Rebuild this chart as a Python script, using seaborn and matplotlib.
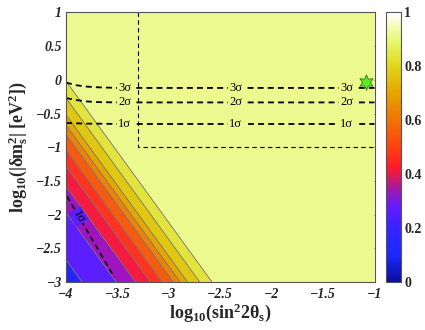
import numpy as np
import pandas as pd
import matplotlib
matplotlib.use("Agg")
import matplotlib.pyplot as plt
import seaborn as sns
from matplotlib.colors import LinearSegmentedColormap, Normalize
from matplotlib.cm import ScalarMappable

# ---------------- data ----------------
# band structure: z depends on s = slope*log10(sin^2 2theta) + log10(dm^2)
band_slope = 2.1
s_nodes = [-13.0, -11.07, -10.37, -9.98, -9.68, -9.44, -9.21, -9.07, -8.92, -8.67, -8.42, -8.0]
z_nodes = [0.02, 0.08, 0.20, 0.30, 0.40, 0.48, 0.55, 0.62, 0.70, 0.78, 0.86, 0.93]
band_levels = [0.0, 0.08, 0.20, 0.30, 0.40, 0.48, 0.55, 0.62, 0.70, 0.78, 0.86, 1.0]
band_colors = ["#2424FC", "#5A1EFF", "#A014C0", "#F51A40", "#FF3420",
               "#F65C10", "#EE8208", "#E6A600", "#E0C812", "#E3E33E", "#EBF98F"]

# confidence contours (upper right), x grid and y values
sig_x = [-4.0, -3.9, -3.8, -3.7, -3.5, -1.0]
sig3_y = [-0.04, -0.08, -0.10, -0.11, -0.12, -0.12]
sig2_y = [-0.27, -0.30, -0.32, -0.33, -0.335, -0.335]
sig1_y = [-0.64, -0.645, -0.65, -0.65, -0.655, -0.655]
sig_label_x = [-3.43, -2.35, -1.27]

# lower-left 1 sigma contour
low1_x = [-3.99, -3.53]
low1_y = [-1.73, -2.93]

# dashed box
box_x = [-3.3, -3.3, -1.0]
box_y = [1.0, -1.0, -1.0]

# best-fit point
star_x = [-1.08]
star_y = [-0.03]

xticks = [-4, -3.5, -3, -2.5, -2, -1.5, -1]
xticklabels = ["\u22124", "\u22123.5", "\u22123", "\u22122.5", "\u22122", "\u22121.5", "\u22121"]
yticks = [1, 0.5, 0, -0.5, -1, -1.5, -2, -2.5, -3]
yticklabels = ["1", "0.5", "0", "\u22120.5", "\u22121", "\u22121.5", "\u22122", "\u22122.5", "\u22123"]
cticks = [0, 0.2, 0.4, 0.6, 0.8, 1]
cticklabels = ["0", "0.2", "0.4", "0.6", "0.8", "1"]

# ---------------- style ----------------
sns.set_theme(style="white")
plt.rcParams["font.family"] = ["Liberation Serif", "DejaVu Serif"]
plt.rcParams["mathtext.fontset"] = "custom"
plt.rcParams["mathtext.rm"] = "Liberation Serif"
plt.rcParams["mathtext.bf"] = "Liberation Serif:bold"
plt.rcParams["mathtext.it"] = "Liberation Serif:italic"

fig = plt.figure(figsize=(4.25, 3.3), dpi=100)
ax = fig.add_axes([0.1553, 0.1455, 0.7259, 0.8167])
cax = fig.add_axes([0.9094, 0.1455, 0.0353, 0.8167])

gx = np.linspace(-4, -1, 500)
gy = np.linspace(-3, 1, 500)
X, Y = np.meshgrid(gx, gy)
Z = np.interp(band_slope * X + Y, s_nodes, z_nodes)

ax.contourf(X, Y, Z, levels=band_levels, colors=band_colors, antialiased=True)
ax.contour(X, Y, Z, levels=band_levels[1:-1], colors="#707070", linewidths=0.6)

# dashed box
ax.plot(box_x, box_y, color="black", lw=0.8, dashes=(4, 3))

# sigma lines
plateau = band_colors[-1]
for ys, lab in [(sig3_y, "3\u03c3"), (sig2_y, "2\u03c3"), (sig1_y, "1\u03c3")]:
    df = pd.DataFrame({"x": sig_x, "y": ys})
    sns.lineplot(data=df, x="x", y="y", ax=ax, color="black", lw=1.3,
                 sort=False, estimator=None).lines[-1].set_dashes((3.3, 2.3))
    for lx in sig_label_x:
        ly = np.interp(lx, sig_x, ys)
        ax.text(lx, ly, lab, fontsize=9, ha="center", va="center", color="black",
                bbox=dict(boxstyle="square,pad=0.12", fc=plateau, ec="none"))

# lower-left 1 sigma
df_low = pd.DataFrame({"x": low1_x, "y": low1_y})
sns.lineplot(data=df_low, x="x", y="y", ax=ax, color="black", lw=1.2,
             sort=False, estimator=None).lines[-1].set_dashes((3.3, 2.3))
ax.text(-3.88, -2.03, "1\u03c3", fontsize=9, rotation=-59, ha="center", va="center",
        color="black", bbox=dict(boxstyle="square,pad=0.1", fc=band_colors[1], ec="none"))

# star
sns.scatterplot(x=star_x, y=star_y, ax=ax, marker=(6, 1, 0), s=120,
                color="#5CEB22", edgecolor="#2E7A14", linewidth=0.6, zorder=5)

ax.set_xlim(-4, -1)
ax.set_ylim(-3, 1)
ax.set_xticks(xticks)
ax.set_xticklabels(xticklabels, fontsize=10, fontweight="bold", style="italic")
ax.set_yticks(yticks)
ax.set_yticklabels(yticklabels, fontsize=10, fontweight="bold", style="italic")
ax.tick_params(direction="in", length=3, width=0.6, color="#555555",
               top=True, right=True, bottom=True, left=True)
ax.tick_params(axis="x", pad=4)
ax.tick_params(axis="y", pad=3)
for sp in ax.spines.values():
    sp.set_color("#555555")
    sp.set_linewidth(0.8)
ax.set_xlabel("log$_{\\mathbf{10}}$(sin$^{\\mathbf{2}}$2\u03b8$_{\\mathbf{s}}$)",
              fontsize=13, fontweight="bold", labelpad=1)
ax.set_ylabel("log$_{\\mathbf{10}}$(|\u03b4m$^{\\mathbf{2}}_{\\mathbf{s}}$| [eV$^{\\mathbf{2}}$])",
              fontsize=13, fontweight="bold", labelpad=4)

# colorbar
cmap = LinearSegmentedColormap.from_list("mlab", [
    (0.00, (0.05, 0.05, 0.62)),
    (0.10, (0.10, 0.16, 1.00)),
    (0.20, (0.22, 0.14, 1.00)),
    (0.28, (0.40, 0.10, 1.00)),
    (0.35, (0.65, 0.10, 0.62)),
    (0.42, (0.98, 0.10, 0.18)),
    (0.50, (1.00, 0.25, 0.06)),
    (0.60, (0.94, 0.45, 0.02)),
    (0.70, (0.90, 0.64, 0.00)),
    (0.80, (0.88, 0.84, 0.10)),
    (0.90, (0.90, 0.98, 0.45)),
    (1.00, (1.00, 1.00, 1.00)),
])
sm = ScalarMappable(norm=Normalize(0, 1), cmap=cmap)
cb = fig.colorbar(sm, cax=cax, ticks=cticks)
cb.ax.set_yticklabels(cticklabels, fontsize=10, fontweight="bold")
cb.outline.set_edgecolor("#555555")
cb.outline.set_linewidth(0.8)
cax.tick_params(direction="in", length=3, width=0.6, color="#555555", left=True, right=True, pad=2)

fig.savefig("out.png", dpi=100)
